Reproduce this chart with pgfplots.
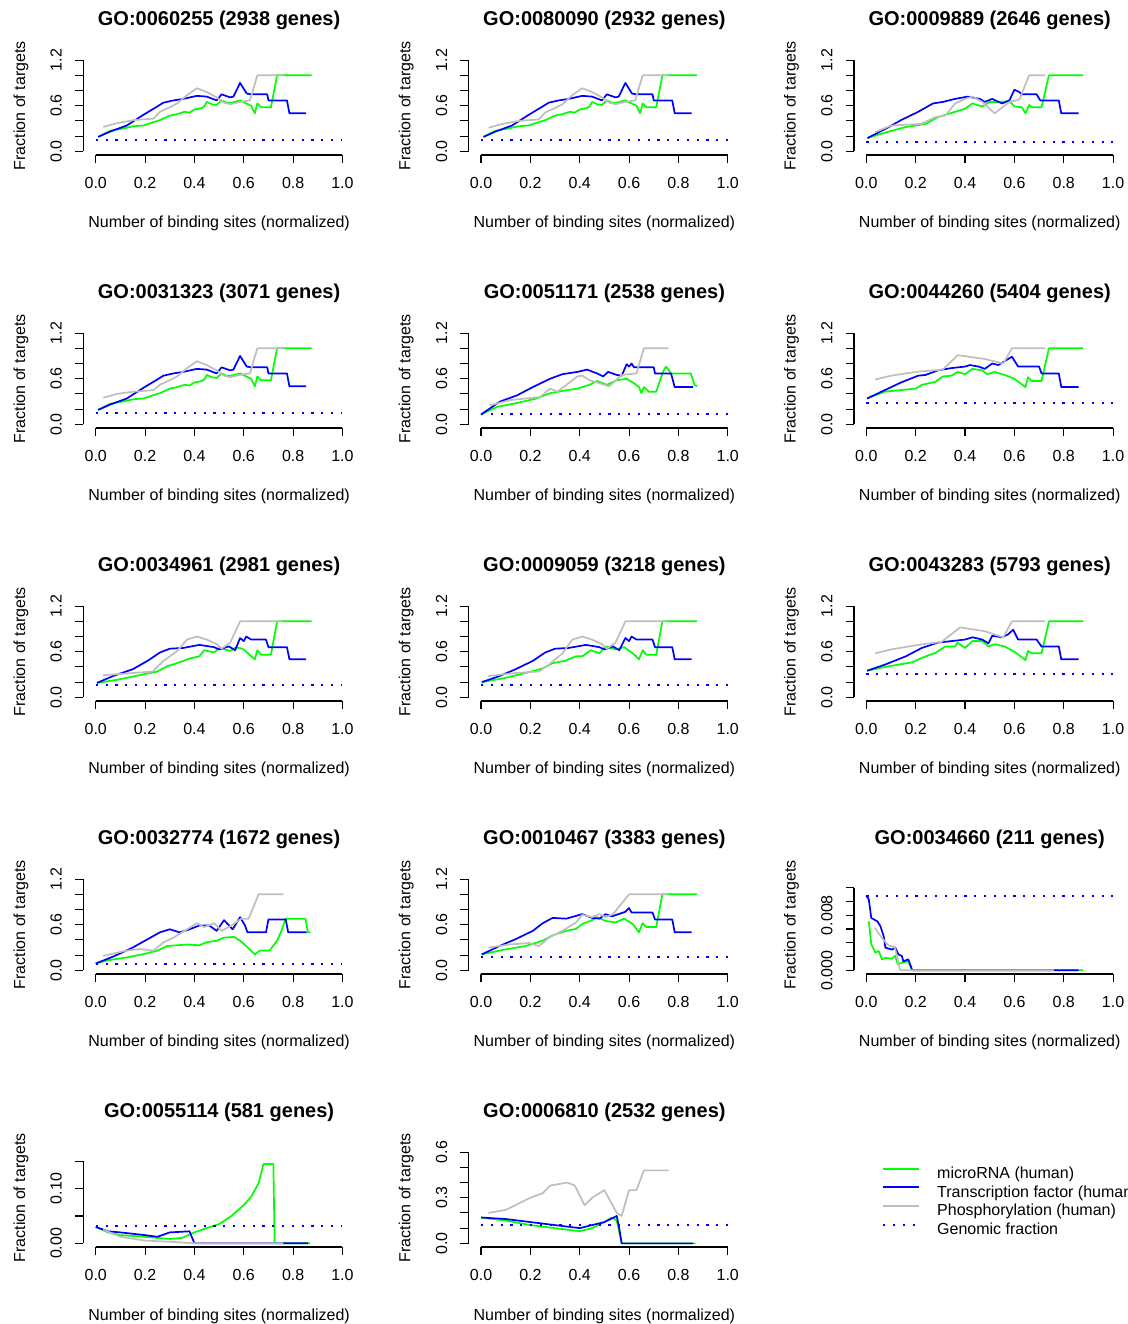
\documentclass[border=0pt]{standalone}
\usepackage{pgfplots}
\pgfplotsset{compat=1.18}
\usepackage{fontspec}
\setmainfont{Liberation Sans}

\definecolor{rgreen}{RGB}{0,255,0}
\definecolor{rblue}{RGB}{0,0,255}
\definecolor{rgray}{RGB}{190,190,190}

\newcommand{\lbl}{\fontsize{16}{19}\selectfont}

\tikzset{
  mirline/.style={draw=rgreen, line width=1.7pt, line join=round},
  tfline/.style={draw=rblue, line width=1.7pt, line join=round},
  phline/.style={draw=rgray, line width=1.7pt, line join=round},
  genline/.style={draw=rblue, line width=2pt, dash pattern=on 2.2pt off 7.6pt},
  axl/.style={black, line width=1.1pt},
}

\pgfplotsset{
  rpanel/.style={
    scale only axis, width=271.4pt, height=98.5pt, anchor=south west,
    xmin=-0.05, xmax=1.05, clip=false,
    axis x line*=bottom, axis y line*=left, axis line style={draw=none},
    tick align=outside, major tick length=8.3pt,
    tick style={black, line width=1.1pt},
    scaled y ticks=false, scaled x ticks=false,
    xtick={0,0.2,0.4,0.6,0.8,1}, xticklabels={0.0,0.2,0.4,0.6,0.8,1.0},
    xticklabel style={anchor=base, inner sep=0pt, yshift=-25pt},
    yticklabel style={xshift=-13.4pt, rotate=90, anchor=base, inner sep=0pt},
    tick label style={font=\lbl},
    /pgf/number format/assume math mode=true,
    title style={at={(axis description cs:0.5,1)}, anchor=base, yshift=25pt,
      inner sep=0pt, font=\fontsize{20}{24}\selectfont\bfseries},
    xlabel={Number of binding sites (normalized)},
    ylabel={Fraction of targets},
    every axis x label/.style={at={(axis description cs:0.5,0)}, yshift=-73pt,
      anchor=base, inner sep=0pt, font=\lbl},
    every axis y label/.style={at={(axis description cs:0,0.5)}, xshift=-58.3pt,
      rotate=90, anchor=base, inner sep=0pt, font=\lbl},
  },
  stdy/.style={ymin=-0.048, ymax=1.248, ytick={0,0.2,0.4,0.6,0.8,1.0,1.2},
    yticklabels={0.0,{},{},0.6,{},{},1.2}},
}
% R-style axis lines spanning only the tick range
\newcommand{\raxes}[2]{%
  \draw[axl] (axis cs:0,#1) -- (axis cs:1,#1);
  \draw[axl] (axis cs:-0.05,0) -- (axis cs:-0.05,#2);}

\begin{document}
\begin{tikzpicture}
\useasboundingbox (0,0) rectangle (1127pt,1324pt);
\clip (0,0) rectangle (1127pt,1324pt);

% ---------- row 1 ----------
\begin{axis}[rpanel, stdy, at={(83.4pt,1169pt)}, title={GO:0060255 (2938 genes)}]
\addplot[mirline] coordinates {(0.01,0.19) (0.058,0.27) (0.11,0.30) (0.153,0.33) (0.193,0.34) (0.23,0.38) (0.26,0.41) (0.30,0.47) (0.33,0.49) (0.36,0.52) (0.38,0.51) (0.40,0.55) (0.43,0.57) (0.44,0.59) (0.45,0.65) (0.47,0.62) (0.49,0.61) (0.51,0.67) (0.53,0.64) (0.55,0.64) (0.585,0.67) (0.61,0.63) (0.63,0.60) (0.645,0.50) (0.655,0.63) (0.67,0.58) (0.71,0.58) (0.735,1.0) (0.875,1.0)};
\addplot[tfline] coordinates {(0.01,0.19) (0.058,0.26) (0.126,0.34) (0.193,0.48) (0.247,0.585) (0.274,0.64) (0.315,0.67) (0.355,0.69) (0.41,0.73) (0.45,0.72) (0.49,0.67) (0.51,0.75) (0.545,0.71) (0.558,0.72) (0.585,0.90) (0.612,0.76) (0.63,0.75) (0.695,0.75) (0.70,0.67) (0.775,0.67) (0.785,0.50) (0.853,0.50)};
\addplot[phline] coordinates {(0.031,0.32) (0.085,0.37) (0.153,0.41) (0.234,0.43) (0.26,0.52) (0.30,0.58) (0.33,0.63) (0.37,0.74) (0.41,0.83) (0.45,0.78) (0.49,0.71) (0.52,0.64) (0.545,0.62) (0.585,0.65) (0.625,0.67) (0.655,1.0) (0.76,1.0)};
\addplot[genline] coordinates {(0,0.145) (1,0.145)};
\raxes{-0.048}{1.2}
\end{axis}

\begin{axis}[rpanel, stdy, at={(468.7pt,1169pt)}, title={GO:0080090 (2932 genes)}]
\addplot[mirline] coordinates {(0.01,0.19) (0.058,0.27) (0.11,0.30) (0.153,0.33) (0.193,0.34) (0.23,0.38) (0.26,0.41) (0.30,0.47) (0.33,0.49) (0.36,0.52) (0.38,0.51) (0.40,0.55) (0.43,0.57) (0.44,0.59) (0.45,0.65) (0.47,0.62) (0.49,0.61) (0.51,0.67) (0.53,0.64) (0.55,0.64) (0.585,0.67) (0.61,0.63) (0.63,0.60) (0.645,0.50) (0.655,0.63) (0.67,0.58) (0.71,0.58) (0.735,1.0) (0.875,1.0)};
\addplot[tfline] coordinates {(0.01,0.19) (0.058,0.26) (0.126,0.34) (0.193,0.48) (0.247,0.585) (0.274,0.64) (0.315,0.67) (0.355,0.69) (0.41,0.73) (0.45,0.72) (0.49,0.67) (0.51,0.75) (0.545,0.71) (0.558,0.72) (0.585,0.90) (0.612,0.76) (0.63,0.75) (0.695,0.75) (0.70,0.67) (0.775,0.67) (0.785,0.50) (0.853,0.50)};
\addplot[phline] coordinates {(0.031,0.31) (0.085,0.36) (0.153,0.40) (0.234,0.42) (0.26,0.51) (0.30,0.57) (0.33,0.62) (0.37,0.74) (0.41,0.83) (0.45,0.78) (0.49,0.71) (0.52,0.64) (0.545,0.62) (0.585,0.65) (0.625,0.67) (0.655,1.0) (0.76,1.0)};
\addplot[genline] coordinates {(0,0.145) (1,0.145)};
\raxes{-0.048}{1.2}
\end{axis}

\begin{axis}[rpanel, stdy, at={(854pt,1169pt)}, title={GO:0009889 (2646 genes)}]
\addplot[mirline] coordinates {(0.005,0.175) (0.08,0.25) (0.16,0.32) (0.24,0.36) (0.29,0.45) (0.35,0.51) (0.40,0.56) (0.43,0.63) (0.47,0.59) (0.50,0.65) (0.54,0.65) (0.58,0.66) (0.60,0.59) (0.63,0.58) (0.645,0.50) (0.66,0.61) (0.67,0.58) (0.71,0.58) (0.74,1.0) (0.88,1.0)};
\addplot[tfline] coordinates {(0.005,0.175) (0.08,0.30) (0.14,0.41) (0.21,0.52) (0.27,0.63) (0.31,0.65) (0.36,0.69) (0.41,0.72) (0.46,0.69) (0.48,0.65) (0.51,0.69) (0.55,0.63) (0.58,0.67) (0.60,0.81) (0.62,0.78) (0.63,0.75) (0.69,0.75) (0.705,0.67) (0.78,0.67) (0.79,0.50) (0.86,0.50)};
\addplot[phline] coordinates {(0.035,0.25) (0.10,0.34) (0.22,0.36) (0.28,0.45) (0.32,0.47) (0.36,0.63) (0.40,0.69) (0.43,0.72) (0.47,0.65) (0.52,0.50) (0.58,0.65) (0.62,0.68) (0.66,1.0) (0.725,1.0)};
\addplot[genline] coordinates {(0,0.125) (1,0.125)};
\raxes{-0.048}{1.2}
\end{axis}

% ---------- row 2 ----------
\begin{axis}[rpanel, stdy, at={(83.4pt,896pt)}, title={GO:0031323 (3071 genes)}]
\addplot[mirline] coordinates {(0.01,0.19) (0.058,0.27) (0.11,0.30) (0.153,0.33) (0.193,0.34) (0.23,0.38) (0.26,0.41) (0.30,0.47) (0.33,0.49) (0.36,0.52) (0.38,0.51) (0.40,0.55) (0.43,0.57) (0.44,0.59) (0.45,0.65) (0.47,0.62) (0.49,0.61) (0.51,0.67) (0.53,0.64) (0.55,0.64) (0.585,0.67) (0.61,0.63) (0.63,0.60) (0.645,0.50) (0.655,0.63) (0.67,0.58) (0.71,0.58) (0.735,1.0) (0.875,1.0)};
\addplot[tfline] coordinates {(0.01,0.19) (0.058,0.26) (0.126,0.34) (0.193,0.48) (0.247,0.585) (0.274,0.64) (0.315,0.67) (0.355,0.69) (0.41,0.73) (0.45,0.72) (0.49,0.67) (0.51,0.75) (0.545,0.71) (0.558,0.72) (0.585,0.90) (0.612,0.76) (0.63,0.75) (0.695,0.75) (0.70,0.67) (0.775,0.67) (0.785,0.50) (0.853,0.50)};
\addplot[phline] coordinates {(0.031,0.35) (0.085,0.40) (0.153,0.43) (0.234,0.45) (0.26,0.52) (0.30,0.58) (0.33,0.63) (0.37,0.74) (0.41,0.83) (0.45,0.78) (0.49,0.71) (0.52,0.64) (0.545,0.62) (0.585,0.65) (0.625,0.67) (0.655,1.0) (0.76,1.0)};
\addplot[genline] coordinates {(0,0.15) (1,0.15)};
\raxes{-0.048}{1.2}
\end{axis}

\begin{axis}[rpanel, stdy, at={(468.7pt,896pt)}, title={GO:0051171 (2538 genes)}]
\addplot[mirline] coordinates {(0.0,0.13) (0.065,0.23) (0.145,0.28) (0.225,0.34) (0.28,0.41) (0.33,0.44) (0.39,0.47) (0.44,0.52) (0.47,0.57) (0.51,0.52) (0.55,0.58) (0.59,0.60) (0.62,0.54) (0.64,0.49) (0.65,0.41) (0.66,0.49) (0.68,0.43) (0.71,0.43) (0.74,0.71) (0.75,0.76) (0.77,0.67) (0.85,0.67) (0.865,0.52) (0.875,0.50)};
\addplot[tfline] coordinates {(0.0,0.13) (0.077,0.30) (0.145,0.38) (0.21,0.49) (0.28,0.60) (0.33,0.66) (0.39,0.69) (0.43,0.72) (0.47,0.67) (0.495,0.63) (0.515,0.69) (0.55,0.65) (0.57,0.64) (0.59,0.79) (0.60,0.76) (0.61,0.80) (0.62,0.75) (0.70,0.75) (0.705,0.67) (0.77,0.67) (0.785,0.49) (0.86,0.49)};
\addplot[phline] coordinates {(0.036,0.25) (0.12,0.32) (0.24,0.36) (0.28,0.47) (0.31,0.43) (0.39,0.63) (0.41,0.64) (0.44,0.58) (0.52,0.50) (0.57,0.65) (0.63,0.67) (0.66,1.0) (0.76,1.0)};
\addplot[genline] coordinates {(0,0.13) (1,0.13)};
\raxes{-0.048}{1.2}
\end{axis}

\begin{axis}[rpanel, stdy, at={(854pt,896pt)}, title={GO:0044260 (5404 genes)}]
\addplot[mirline] coordinates {(0.003,0.34) (0.075,0.43) (0.2,0.47) (0.225,0.52) (0.28,0.56) (0.31,0.63) (0.345,0.64) (0.37,0.69) (0.40,0.66) (0.43,0.73) (0.47,0.71) (0.49,0.66) (0.52,0.69) (0.56,0.65) (0.60,0.60) (0.645,0.49) (0.655,0.62) (0.67,0.57) (0.71,0.57) (0.74,1.0) (0.88,1.0)};
\addplot[tfline] coordinates {(0.003,0.34) (0.075,0.45) (0.14,0.55) (0.21,0.64) (0.24,0.65) (0.29,0.71) (0.345,0.74) (0.40,0.76) (0.42,0.78) (0.455,0.76) (0.48,0.73) (0.51,0.80) (0.535,0.78) (0.57,0.85) (0.59,0.89) (0.615,0.76) (0.70,0.76) (0.71,0.67) (0.78,0.67) (0.79,0.49) (0.86,0.49)};
\addplot[phline] coordinates {(0.036,0.59) (0.10,0.64) (0.2,0.69) (0.31,0.72) (0.37,0.91) (0.48,0.86) (0.555,0.80) (0.59,1.0) (0.725,1.0)};
\addplot[genline] coordinates {(0,0.287) (1,0.287)};
\raxes{-0.048}{1.2}
\end{axis}

% ---------- row 3 ----------
\begin{axis}[rpanel, stdy, at={(83.4pt,623pt)}, title={GO:0034961 (2981 genes)}]
\addplot[mirline] coordinates {(0.005,0.19) (0.085,0.23) (0.19,0.30) (0.25,0.34) (0.29,0.41) (0.33,0.45) (0.38,0.51) (0.42,0.54) (0.44,0.62) (0.48,0.59) (0.50,0.65) (0.545,0.61) (0.57,0.66) (0.60,0.63) (0.63,0.54) (0.645,0.50) (0.655,0.62) (0.67,0.56) (0.71,0.56) (0.735,1.0) (0.875,1.0)};
\addplot[tfline] coordinates {(0.005,0.19) (0.07,0.28) (0.15,0.37) (0.21,0.48) (0.26,0.59) (0.30,0.64) (0.355,0.65) (0.42,0.69) (0.48,0.66) (0.50,0.63) (0.54,0.67) (0.565,0.62) (0.585,0.78) (0.60,0.74) (0.61,0.80) (0.63,0.76) (0.69,0.76) (0.70,0.66) (0.775,0.66) (0.785,0.50) (0.853,0.50)};
\addplot[phline] coordinates {(0.03,0.29) (0.15,0.32) (0.23,0.34) (0.275,0.48) (0.33,0.61) (0.37,0.76) (0.41,0.80) (0.45,0.76) (0.49,0.70) (0.51,0.64) (0.545,0.72) (0.585,1.0) (0.755,1.0)};
\addplot[genline] coordinates {(0,0.158) (1,0.158)};
\raxes{-0.048}{1.2}
\end{axis}

\begin{axis}[rpanel, stdy, at={(468.7pt,623pt)}, title={GO:0009059 (3218 genes)}]
\addplot[mirline] coordinates {(0.003,0.20) (0.09,0.25) (0.18,0.32) (0.25,0.38) (0.29,0.45) (0.34,0.48) (0.385,0.54) (0.41,0.54) (0.445,0.62) (0.48,0.58) (0.505,0.67) (0.545,0.63) (0.58,0.66) (0.615,0.58) (0.64,0.50) (0.655,0.62) (0.67,0.56) (0.71,0.56) (0.735,1.0) (0.875,1.0)};
\addplot[tfline] coordinates {(0.003,0.20) (0.075,0.28) (0.14,0.37) (0.21,0.48) (0.26,0.59) (0.30,0.64) (0.355,0.65) (0.425,0.69) (0.48,0.66) (0.50,0.63) (0.535,0.67) (0.56,0.62) (0.585,0.78) (0.60,0.74) (0.61,0.80) (0.63,0.76) (0.695,0.76) (0.705,0.66) (0.775,0.66) (0.785,0.50) (0.853,0.50)};
\addplot[phline] coordinates {(0.03,0.28) (0.14,0.32) (0.235,0.34) (0.275,0.43) (0.33,0.58) (0.37,0.76) (0.41,0.80) (0.45,0.76) (0.49,0.70) (0.51,0.64) (0.545,0.72) (0.585,1.0) (0.755,1.0)};
\addplot[genline] coordinates {(0,0.158) (1,0.158)};
\raxes{-0.048}{1.2}
\end{axis}

\begin{axis}[rpanel, stdy, at={(854pt,623pt)}, title={GO:0043283 (5793 genes)}]
\addplot[mirline] coordinates {(0.003,0.35) (0.075,0.40) (0.185,0.46) (0.225,0.52) (0.28,0.585) (0.32,0.67) (0.36,0.67) (0.37,0.72) (0.40,0.65) (0.43,0.74) (0.47,0.74) (0.495,0.67) (0.52,0.70) (0.56,0.67) (0.60,0.60) (0.645,0.49) (0.655,0.61) (0.67,0.58) (0.71,0.58) (0.74,1.0) (0.88,1.0)};
\addplot[tfline] coordinates {(0.003,0.35) (0.075,0.43) (0.16,0.54) (0.225,0.65) (0.29,0.72) (0.345,0.74) (0.40,0.76) (0.43,0.79) (0.47,0.76) (0.495,0.71) (0.51,0.81) (0.55,0.79) (0.575,0.83) (0.595,0.89) (0.615,0.76) (0.69,0.76) (0.71,0.67) (0.78,0.67) (0.79,0.50) (0.86,0.50)};
\addplot[phline] coordinates {(0.036,0.58) (0.10,0.63) (0.21,0.69) (0.305,0.73) (0.38,0.92) (0.48,0.87) (0.555,0.79) (0.59,1.0) (0.725,1.0)};
\addplot[genline] coordinates {(0,0.31) (1,0.31)};
\raxes{-0.048}{1.2}
\end{axis}

% ---------- row 4 ----------
\begin{axis}[rpanel, stdy, at={(83.4pt,350pt)}, title={GO:0032774 (1672 genes)}]
\addplot[mirline] coordinates {(0.0,0.09) (0.045,0.13) (0.125,0.17) (0.19,0.21) (0.25,0.26) (0.29,0.32) (0.33,0.33) (0.37,0.34) (0.42,0.33) (0.45,0.37) (0.49,0.39) (0.52,0.43) (0.56,0.44) (0.585,0.39) (0.61,0.32) (0.645,0.21) (0.665,0.26) (0.705,0.26) (0.735,0.39) (0.75,0.50) (0.77,0.68) (0.85,0.68) (0.86,0.50) (0.87,0.50)};
\addplot[tfline] coordinates {(0.0,0.09) (0.07,0.18) (0.15,0.30) (0.205,0.40) (0.26,0.50) (0.30,0.54) (0.34,0.50) (0.38,0.54) (0.42,0.59) (0.46,0.59) (0.49,0.52) (0.52,0.66) (0.555,0.54) (0.585,0.70) (0.605,0.59) (0.615,0.50) (0.69,0.50) (0.70,0.67) (0.77,0.67) (0.78,0.50) (0.855,0.50)};
\addplot[phline] coordinates {(0.03,0.19) (0.125,0.26) (0.18,0.28) (0.235,0.26) (0.275,0.37) (0.315,0.43) (0.37,0.54) (0.41,0.62) (0.44,0.57) (0.48,0.62) (0.51,0.52) (0.55,0.59) (0.59,0.68) (0.62,0.68) (0.66,1.0) (0.76,1.0)};
\addplot[genline] coordinates {(0,0.09) (1,0.09)};
\raxes{-0.048}{1.2}
\end{axis}

\begin{axis}[rpanel, stdy, at={(468.7pt,350pt)}, title={GO:0010467 (3383 genes)}]
\addplot[mirline] coordinates {(0.003,0.21) (0.09,0.27) (0.18,0.32) (0.25,0.39) (0.29,0.46) (0.345,0.52) (0.385,0.545) (0.41,0.61) (0.45,0.66) (0.47,0.70) (0.505,0.65) (0.545,0.63) (0.58,0.68) (0.615,0.61) (0.64,0.50) (0.655,0.62) (0.67,0.57) (0.71,0.57) (0.735,1.0) (0.875,1.0)};
\addplot[tfline] coordinates {(0.003,0.21) (0.075,0.32) (0.14,0.41) (0.21,0.52) (0.25,0.62) (0.29,0.69) (0.345,0.68) (0.41,0.74) (0.45,0.69) (0.48,0.68) (0.505,0.74) (0.53,0.71) (0.585,0.77) (0.60,0.82) (0.61,0.76) (0.695,0.76) (0.705,0.67) (0.775,0.67) (0.785,0.50) (0.853,0.50)};
\addplot[phline] coordinates {(0.03,0.30) (0.115,0.34) (0.195,0.36) (0.235,0.32) (0.275,0.43) (0.33,0.52) (0.385,0.63) (0.41,0.73) (0.45,0.70) (0.48,0.74) (0.505,0.70) (0.535,0.74) (0.60,1.0) (0.755,1.0)};
\addplot[genline] coordinates {(0,0.18) (1,0.18)};
\raxes{-0.048}{1.2}
\end{axis}

\begin{axis}[rpanel, at={(854pt,350pt)}, title={GO:0034660 (211 genes)},
  ymin=-0.00053, ymax=0.01376, ytick={0,0.002,0.004,0.006,0.008,0.010,0.012},
  yticklabels={0.000,{},{},{},0.008,{},{}}]
\addplot[mirline] coordinates {(0.01,0.0071) (0.02,0.0038) (0.036,0.0026) (0.05,0.0028) (0.063,0.0016) (0.077,0.0018) (0.104,0.0017) (0.117,0.0021) (0.127,0.0009) (0.144,0.0011) (0.17,0.0013) (0.185,0.0) (0.88,0.0)};
\addplot[tfline] coordinates {(0.0,0.0108) (0.01,0.0103) (0.02,0.0076) (0.045,0.0071) (0.057,0.0064) (0.07,0.0050) (0.077,0.0033) (0.104,0.0030) (0.117,0.0033) (0.13,0.0023) (0.144,0.0021) (0.15,0.0013) (0.17,0.0016) (0.185,0.0001) (0.19,0.0) (0.86,0.0)};
\addplot[phline] coordinates {(0.034,0.0062) (0.063,0.0047) (0.09,0.0036) (0.115,0.0034) (0.137,0.0) (0.76,0.0)};
\addplot[genline] coordinates {(0,0.01075) (1,0.01075)};
\raxes{-0.00053}{0.012}
\end{axis}

% ---------- row 5 ----------
\begin{axis}[rpanel, at={(83.4pt,77pt)}, title={GO:0055114 (581 genes)},
  ymin=-0.00667, ymax=0.1733, ytick={0,0.05,0.10,0.15},
  yticklabels={0.00,{},0.10,{}}]
\addplot[mirline] coordinates {(0,0.03) (0.05,0.02) (0.1,0.015) (0.2,0.012) (0.3,0.008) (0.35,0.01) (0.4,0.02) (0.45,0.028) (0.5,0.035) (0.55,0.05) (0.6,0.07) (0.63,0.085) (0.66,0.11) (0.68,0.145) (0.72,0.145) (0.725,0) (0.87,0)};
\addplot[tfline] coordinates {(0,0.03) (0.05,0.022) (0.1,0.02) (0.2,0.015) (0.25,0.012) (0.3,0.02) (0.38,0.022) (0.4,0) (0.86,0)};
\addplot[phline] coordinates {(0.03,0.025) (0.1,0.012) (0.2,0.005) (0.3,0.003) (0.4,0) (0.76,0)};
\addplot[genline] coordinates {(0,0.031) (1,0.031)};
\raxes{-0.00667}{0.15}
\end{axis}

\begin{axis}[rpanel, at={(468.7pt,77pt)}, title={GO:0006810 (2532 genes)},
  ymin=-0.024, ymax=0.624, ytick={0,0.1,0.2,0.3,0.4,0.5,0.6},
  yticklabels={0.0,{},{},0.3,{},{},0.6}]
\addplot[mirline] coordinates {(0,0.17) (0.1,0.15) (0.2,0.12) (0.3,0.1) (0.4,0.08) (0.45,0.1) (0.5,0.14) (0.53,0.17) (0.55,0.15) (0.57,0) (0.87,0)};
\addplot[tfline] coordinates {(0,0.17) (0.1,0.16) (0.2,0.14) (0.3,0.12) (0.4,0.1) (0.5,0.14) (0.55,0.18) (0.56,0.1) (0.57,0) (0.86,0)};
\addplot[phline] coordinates {(0.03,0.2) (0.1,0.22) (0.2,0.3) (0.25,0.33) (0.28,0.38) (0.35,0.40) (0.38,0.38) (0.42,0.25) (0.45,0.30) (0.5,0.35) (0.55,0.2) (0.57,0.18) (0.6,0.35) (0.63,0.35) (0.66,0.48) (0.76,0.48)};
\addplot[genline] coordinates {(0,0.12) (1,0.12)};
\raxes{-0.024}{0.6}
\end{axis}

% ---------- legend ----------
\begin{axis}[at={(882pt,157pt)}, anchor=north west, scale only axis,
  width=10pt, height=10pt, hide axis, xmin=0, xmax=1, ymin=0, ymax=1,
  legend style={at={(0,1)}, anchor=north west, draw=none, fill=none,
    inner sep=0pt, row sep=5.5pt, font=\lbl, nodes={inner sep=0pt},
    /tikz/every odd column/.append style={column sep=17pt}},
  legend cell align=left,
  legend image code/.code={\draw[#1] (0pt,5pt) -- (36pt,5pt);}]
\addlegendimage{mirline}
\addlegendentry{microRNA (human)}
\addlegendimage{tfline}
\addlegendentry{Transcription factor (human)}
\addlegendimage{phline}
\addlegendentry{Phosphorylation (human)}
\addlegendimage{genline}
\addlegendentry{Genomic fraction}
\end{axis}
\end{tikzpicture}
\end{document}
